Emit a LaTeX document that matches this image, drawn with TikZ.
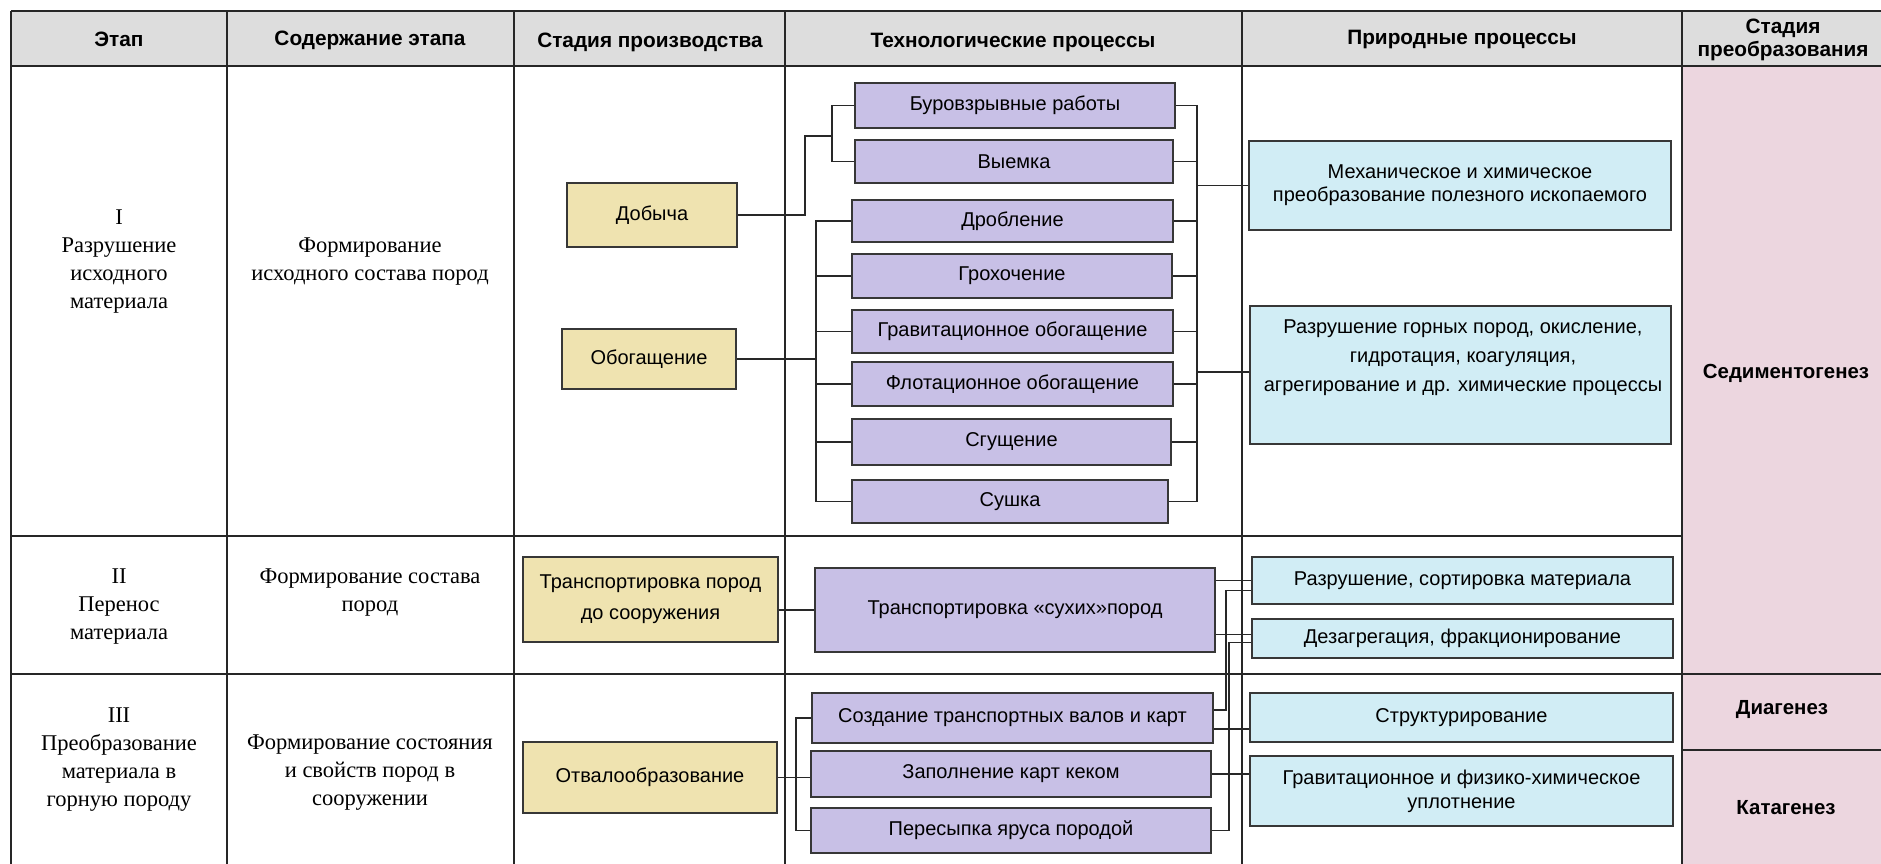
\documentclass[tikz,border=0pt]{standalone}
\usepackage{fontspec}
\setmainfont{Liberation Serif}
\setsansfont{Liberation Sans}
\usetikzlibrary{calc}
\definecolor{headc}{RGB}{221,221,221}
\definecolor{pinkc}{RGB}{236,214,223}
\definecolor{purp}{RGB}{200,192,230}
\definecolor{yel}{RGB}{239,227,176}
\definecolor{cya}{RGB}{209,237,245}
\definecolor{boxline}{RGB}{55,55,55}
\definecolor{connc}{RGB}{40,40,40}
\tikzset{
  box/.style={draw=boxline, line width=1.1pt, inner sep=0pt, align=center,
    font=\sffamily\fontsize{10}{12}\selectfont},
  bx/.style n args={4}{minimum width={(#3-#1)*0.5pt}, minimum height={(#4-#2)*0.5pt},
    at={({(#1+#3)/2},{(#2+#4)/2})}},
  pbox/.style={box, fill=purp},
  ybox/.style={box, fill=yel},
  cbox/.style={box, fill=cya},
  conn/.style={draw=connc, line width=0.9pt},
  tab/.style={draw=black!85, line width=1pt},
  cell/.style={align=center, font=\fontsize{11.25}{14}\selectfont},
  head/.style={align=center, font=\sffamily\bfseries\fontsize{10.4}{11.5}\selectfont},
  stage/.style={align=center, font=\sffamily\bfseries\fontsize{10.2}{12}\selectfont}
}
\begin{document}
\begin{tikzpicture}[x=0.5pt,y=-0.5pt]
\useasboundingbox (0,0) rectangle (1881,863);
\fill[white] (0,0) rectangle (1881,863);
% table fills
\fill[headc] (11,11) rectangle (1890,66);
\fill[pinkc] (1682,66) rectangle (1890,870);
% table lines
\draw[tab] (11,11) -- (1890,11);
\draw[tab] (11,66) -- (1890,66);
\draw[tab] (11,536) -- (1682,536);
\draw[tab] (11,674) -- (1890,674);
\draw[tab] (1682,750) -- (1890,750);
\foreach \xx in {11,227,514,785,1242,1682} \draw[tab] (\xx,11) -- (\xx,870);
% headers
\node[head] (h1) at (119,39) {Этап};
\node[head] (h2) at (370,40) {Содержание этапа};
\node[head] (h3) at (650,42) {Стадия производства};
\node[head] (h4) at (1013,42) {Технологические процессы};
\node[head] (h5) at (1462,39) {Природные процессы};
\node[head] (h6) at (1783,40) {Стадия\\преобразования};
% first columns
\node[cell] (e1) at (119,262) {I\\Разрушение\\исходного\\материала};
\node[cell] (c1) at (370,262) {Формирование\\исходного состава пород};
\node[cell] (e2) at (119,607) {II\\Перенос\\материала};
\node[cell] (c2) at (370,593) {Формирование состава\\пород};
\node[cell] (e3) at (119,760) {III\\Преобразование\\материала в\\горную породу};
\node[cell] (c3) at (370,773) {Формирование состояния\\и свойств пород в\\сооружении};
% stage of production
\node[ybox, bx={567}{183}{737}{247}] (d1) {Добыча};
\node[ybox, bx={562}{329}{736}{389}] (d2) {Обогащение};
\node[ybox, bx={523}{557}{778}{642}, font=\sffamily\fontsize{10}{15.5}\selectfont] (d3) {Транспортировка пород\\до сооружения};
\node[ybox, bx={523}{742}{777}{813}] (d4) {Отвалообразование};
% technological processes
\node[pbox, bx={855}{83}{1175}{128}] (t1) {Буровзрывные работы};
\node[pbox, bx={855}{140}{1173}{183}] (t2) {Выемка};
\node[pbox, bx={852}{200}{1173}{242}] (t3) {Дробление};
\node[pbox, bx={852}{254}{1172}{298}] (t4) {Грохочение};
\node[pbox, bx={852}{310}{1173}{353}] (t5) {Гравитационное обогащение};
\node[pbox, bx={852}{362}{1173}{406}] (t6) {Флотационное обогащение};
\node[pbox, bx={852}{419}{1171}{465}] (t7) {Сгущение};
\node[pbox, bx={852}{480}{1168}{523}] (t8) {Сушка};
\node[pbox, bx={815}{568}{1215}{652}] (t9) {Транспортировка «сухих»пород};
\node[pbox, bx={812}{693}{1213}{743}] (t10) {Создание транспортных валов и карт};
\node[pbox, bx={811}{751}{1211}{797}] (t11) {Заполнение карт кеком};
\node[pbox, bx={811}{808}{1211}{853}] (t12) {Пересыпка яруса породой};
% natural processes
\node[cbox, bx={1249}{141}{1671}{230}, font=\sffamily\fontsize{10}{11.5}\selectfont] (n1) {Механическое и химическое\\преобразование полезного ископаемого};
\node[cbox, bx={1250}{306}{1671}{444}] (n2) {};
\node[align=center, font=\sffamily\fontsize{10}{14.5}\selectfont] (n2t) at (1463,358) {Разрушение горных пород, окисление,\\гидротация, коагуляция,\\агрегирование и др. химические процессы};
\node[cbox, bx={1252}{557}{1673}{604}] (n3) {Разрушение, сортировка материала};
\node[cbox, bx={1252}{619}{1673}{658}] (n4) {Дезагрегация, фракционирование};
\node[cbox, bx={1250}{693}{1673}{742}] (n5) {Структурирование};
\node[cbox, bx={1250}{756}{1673}{826}] (n6) {Гравитационное и физико-химическое\\уплотнение};
% transformation stage
\node[stage] (s1) at (1786,373) {Седиментогенез};
\node[stage] (s2) at (1782,710) {Диагенез};
\node[stage] (s3) at (1786,808) {Катагенез};
% connectors: left side
\coordinate (busL) at (816,0);
\coordinate (busR) at (1197,0);
\coordinate (busO) at (796,0);
\draw[conn] (d1.east) -| (805,136) -- (832,136);
\draw[conn] (t1.west) -| (832,136) |- (t2.west);
\draw[conn] (d2.east) -- (d2.east -| busL);
\draw[conn] (t3.west) -| (busL |- t8.west) -- (t8.west);
\foreach \n in {t4,t5,t6,t7} \draw[conn] (\n.west) -- (\n.west -| busL);
% right side, row I
\draw[conn] (t1.east) -| (busR |- t8.east) -- (t8.east);
\foreach \n in {t2,t3,t4,t5,t6,t7} \draw[conn] (\n.east) -- (\n.east -| busR);
\draw[conn] (busR |- n1.west) -- (n1.west);
\draw[conn] ($(busR |- n2.west)+(0,-3)$) -- ($(n2.west)+(0,-3)$);
% rows II and III
\draw[conn] (t9.west -| d3.east) -- (t9.west);
\draw[conn] (d4.east) -- (d4.east -| t11.west);
\draw[conn] (t10.west) -| (busO |- t12.west) -- (t12.west);
\draw[conn] (t9.east |- n3.west) -- (n3.west);
\draw[conn] ($(t9.east |- n4.west)+(0,-4)$) -- ($(n4.west)+(0,-4)$);
\draw[conn] ($(t10.east)+(0,-8)$) -| ($(n3.west)+(-25,10)$) -- ($(n3.west)+(0,10)$);
\draw[conn] (t12.east) -| ($(n4.west)+(-22,4)$) -- ($(n4.west)+(0,4)$);
\draw[conn] ($(t10.east)+(0,11)$) -- ($(t10.east -| n5.west)+(0,11)$);
\draw[conn] (t11.east) -- (t11.east -| n6.west);
\end{tikzpicture}
\end{document}
